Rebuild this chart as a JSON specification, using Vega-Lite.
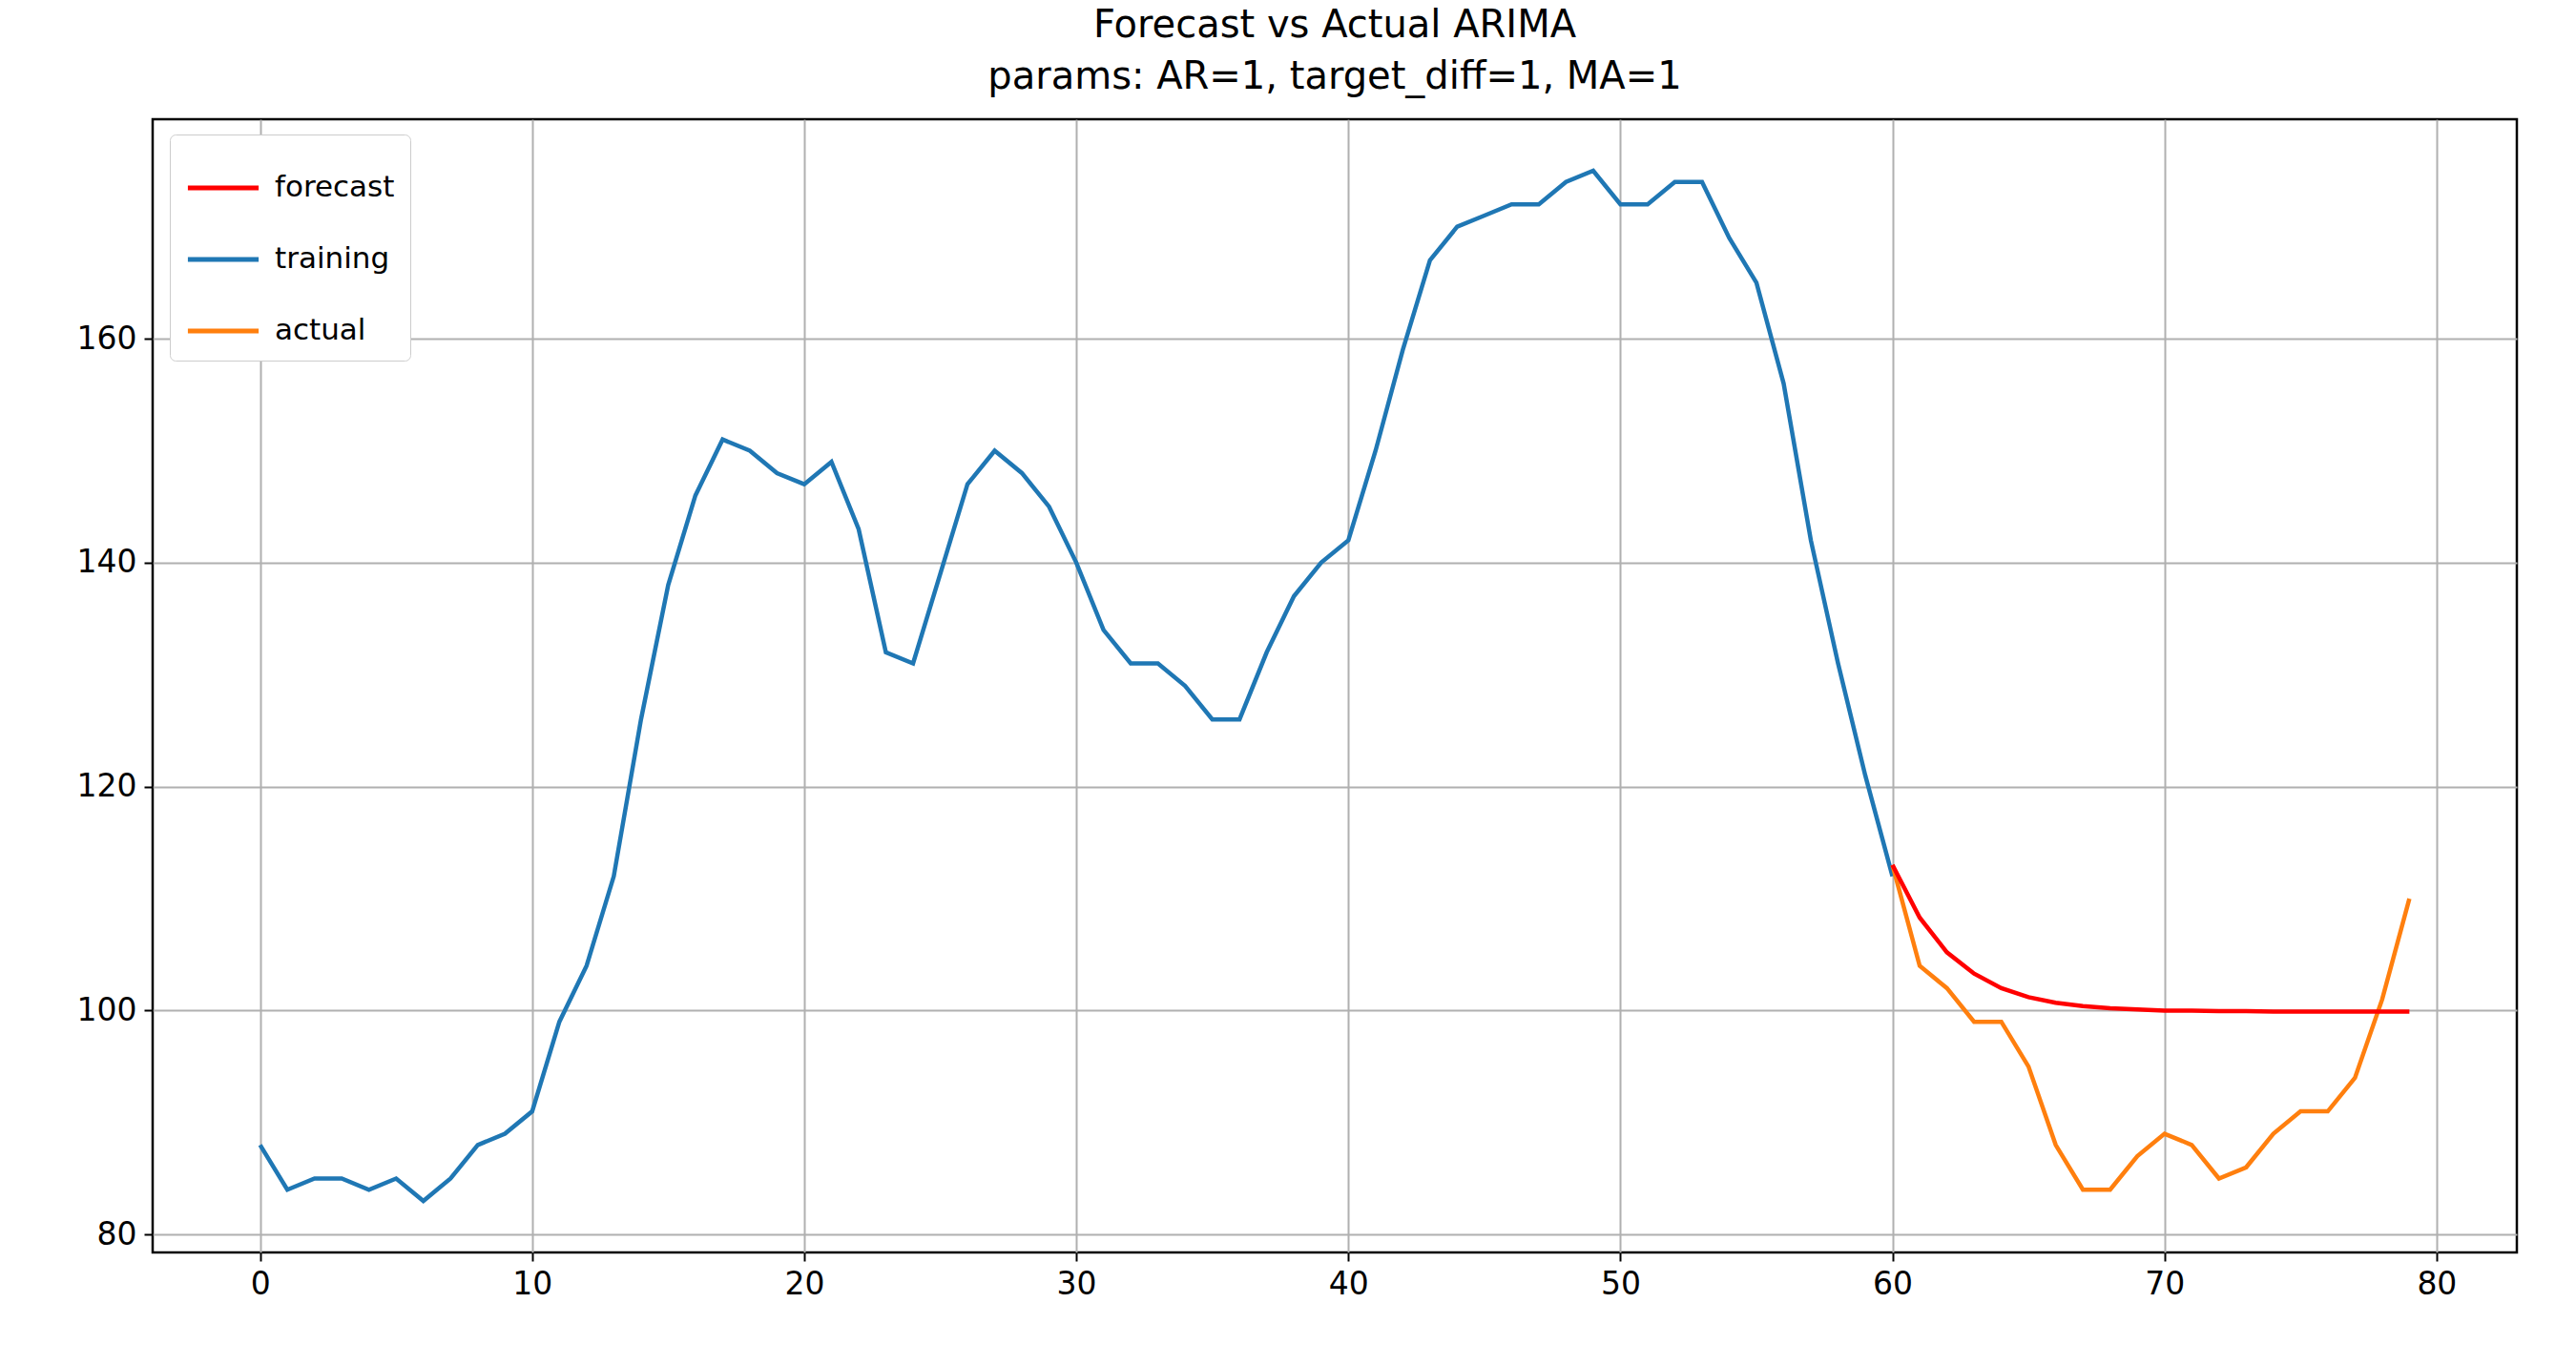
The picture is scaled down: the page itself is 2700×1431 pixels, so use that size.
{
  "$schema": "https://vega.github.io/schema/vega-lite/v6.json",
  "width": 2478,
  "height": 1188,
  "autosize": "none",
  "padding": {"left": 160, "top": 125, "right": 62, "bottom": 118},
  "background": "white",
  "title": {
    "text": ["Forecast vs Actual ARIMA", "params: AR=1, target_diff=1, MA=1"],
    "font": "DejaVu Sans", "fontSize": 40, "fontWeight": "normal", "anchor": "middle", "offset": 24, "lineHeight": 54
  },
  "config": {
    "view": {"stroke": "black", "strokeWidth": 2.5},
    "axis": {
      "labelFont": "DejaVu Sans", "labelFontSize": 33, "labelColor": "black",
      "grid": true, "gridColor": "#b0b0b0", "gridWidth": 2,
      "tickColor": "black", "tickSize": 9, "tickWidth": 2, "domain": false, "labelPadding": 8, "title": null
    }
  },
  "data": {"values": [
    {"x":0,"y":88,"s":"training"},{"x":1,"y":84,"s":"training"},{"x":2,"y":85,"s":"training"},{"x":3,"y":85,"s":"training"},
    {"x":4,"y":84,"s":"training"},{"x":5,"y":85,"s":"training"},{"x":6,"y":83,"s":"training"},{"x":7,"y":85,"s":"training"},
    {"x":8,"y":88,"s":"training"},{"x":9,"y":89,"s":"training"},{"x":10,"y":91,"s":"training"},{"x":11,"y":99,"s":"training"},
    {"x":12,"y":104,"s":"training"},{"x":13,"y":112,"s":"training"},{"x":14,"y":126,"s":"training"},{"x":15,"y":138,"s":"training"},
    {"x":16,"y":146,"s":"training"},{"x":17,"y":151,"s":"training"},{"x":18,"y":150,"s":"training"},{"x":19,"y":148,"s":"training"},
    {"x":20,"y":147,"s":"training"},{"x":21,"y":149,"s":"training"},{"x":22,"y":143,"s":"training"},{"x":23,"y":132,"s":"training"},
    {"x":24,"y":131,"s":"training"},{"x":25,"y":139,"s":"training"},{"x":26,"y":147,"s":"training"},{"x":27,"y":150,"s":"training"},
    {"x":28,"y":148,"s":"training"},{"x":29,"y":145,"s":"training"},{"x":30,"y":140,"s":"training"},{"x":31,"y":134,"s":"training"},
    {"x":32,"y":131,"s":"training"},{"x":33,"y":131,"s":"training"},{"x":34,"y":129,"s":"training"},{"x":35,"y":126,"s":"training"},
    {"x":36,"y":126,"s":"training"},{"x":37,"y":132,"s":"training"},{"x":38,"y":137,"s":"training"},{"x":39,"y":140,"s":"training"},
    {"x":40,"y":142,"s":"training"},{"x":41,"y":150,"s":"training"},{"x":42,"y":159,"s":"training"},{"x":43,"y":167,"s":"training"},
    {"x":44,"y":170,"s":"training"},{"x":45,"y":171,"s":"training"},{"x":46,"y":172,"s":"training"},{"x":47,"y":172,"s":"training"},
    {"x":48,"y":174,"s":"training"},{"x":49,"y":175,"s":"training"},{"x":50,"y":172,"s":"training"},{"x":51,"y":172,"s":"training"},
    {"x":52,"y":174,"s":"training"},{"x":53,"y":174,"s":"training"},{"x":54,"y":169,"s":"training"},{"x":55,"y":165,"s":"training"},
    {"x":56,"y":156,"s":"training"},{"x":57,"y":142,"s":"training"},{"x":58,"y":131,"s":"training"},{"x":59,"y":121,"s":"training"},
    {"x":60,"y":112,"s":"training"},
    {"x":60,"y":113,"s":"actual"},{"x":61,"y":104,"s":"actual"},{"x":62,"y":102,"s":"actual"},{"x":63,"y":99,"s":"actual"},
    {"x":64,"y":99,"s":"actual"},{"x":65,"y":95,"s":"actual"},{"x":66,"y":88,"s":"actual"},{"x":67,"y":84,"s":"actual"},
    {"x":68,"y":84,"s":"actual"},{"x":69,"y":87,"s":"actual"},{"x":70,"y":89,"s":"actual"},{"x":71,"y":88,"s":"actual"},
    {"x":72,"y":85,"s":"actual"},{"x":73,"y":86,"s":"actual"},{"x":74,"y":89,"s":"actual"},{"x":75,"y":91,"s":"actual"},
    {"x":76,"y":91,"s":"actual"},{"x":77,"y":94,"s":"actual"},{"x":78,"y":101,"s":"actual"},{"x":79,"y":110,"s":"actual"},
    {"x":60,"y":113,"s":"forecast"},{"x":61,"y":108.3,"s":"forecast"},{"x":62,"y":105.2,"s":"forecast"},{"x":63,"y":103.3,"s":"forecast"},
    {"x":64,"y":102,"s":"forecast"},{"x":65,"y":101.2,"s":"forecast"},{"x":66,"y":100.7,"s":"forecast"},{"x":67,"y":100.4,"s":"forecast"},
    {"x":68,"y":100.2,"s":"forecast"},{"x":69,"y":100.1,"s":"forecast"},{"x":70,"y":100,"s":"forecast"},{"x":71,"y":100,"s":"forecast"},
    {"x":72,"y":99.95,"s":"forecast"},{"x":73,"y":99.95,"s":"forecast"},{"x":74,"y":99.9,"s":"forecast"},{"x":75,"y":99.9,"s":"forecast"},
    {"x":76,"y":99.9,"s":"forecast"},{"x":77,"y":99.9,"s":"forecast"},{"x":78,"y":99.9,"s":"forecast"},{"x":79,"y":99.9,"s":"forecast"}
  ]},
  "mark": {"type": "line", "strokeWidth": 4.5},
  "encoding": {
    "x": {"field": "x", "type": "quantitative",
      "scale": {"domain": [-3.95, 82.95], "nice": false, "zero": false},
      "axis": {"values": [0,10,20,30,40,50,60,70,80]}},
    "y": {"field": "y", "type": "quantitative",
      "scale": {"domain": [78.4, 179.6], "nice": false, "zero": false},
      "axis": {"values": [80,100,120,140,160]}},
    "color": {"field": "s", "type": "nominal",
      "scale": {"domain": ["forecast","training","actual"], "range": ["#ff0000","#1f77b4","#ff7f0e"]},
      "legend": {"title": null, "orient": "none", "legendX": 18, "legendY": 16,
        "symbolType": "stroke", "symbolStrokeWidth": 5, "symbolSize": 5500,
        "labelFont": "DejaVu Sans", "labelFontSize": 31, "labelColor": "black", "rowPadding": 20, "labelOffset": 14,
        "fillColor": "white", "strokeColor": "#cccccc", "cornerRadius": 6, "padding": 16}},
    "order": {"field": "x", "type": "quantitative"}
  }
}
